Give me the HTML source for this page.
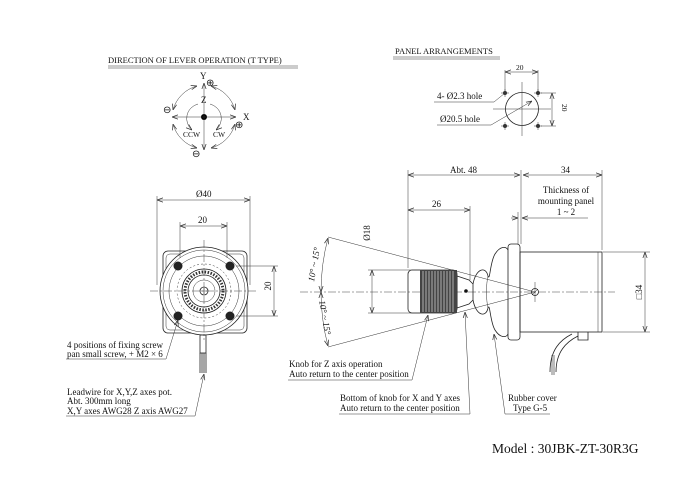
<!DOCTYPE html>
<html><head><style>
html,body{margin:0;padding:0;background:#fff;}
svg{display:block;font-family:"Liberation Serif",serif;font-size:9px;}
text{fill:#111;}
.l{stroke:#222;stroke-width:0.8;fill:none;}
.t{stroke:#333;stroke-width:0.5;fill:none;}
.c{stroke:#444;stroke-width:0.5;fill:none;stroke-dasharray:8 2 2 2;}
</style></head><body>
<svg width="700" height="495" viewBox="0 0 700 495">
<defs>
<marker id="a" viewBox="0 0 10 10" refX="10" refY="5" markerUnits="userSpaceOnUse" markerWidth="6" markerHeight="6" orient="auto-start-reverse"><path d="M0,1.5 L10,5 L0,8.5" fill="none" stroke="#333" stroke-width="1.2"/></marker>
</defs>

<!-- Direction of lever operation -->
<text x="108" y="63" style="font-size:8.5px">DIRECTION OF LEVER OPERATION (T TYPE)</text>
<line x1="108" y1="66" x2="298" y2="66" class="t"/><line x1="108" y1="68" x2="298" y2="68" class="t"/>
<circle cx="204" cy="117" r="3" fill="#000"/>
<line x1="204" y1="117" x2="204" y2="83" class="t" marker-end="url(#a)"/>
<line x1="204" y1="117" x2="204" y2="150" class="t" marker-end="url(#a)"/>
<line x1="204" y1="117" x2="172" y2="117" class="t" marker-end="url(#a)"/>
<line x1="204" y1="117" x2="236" y2="117" class="t" marker-end="url(#a)"/>
<path d="M211,86 A34,34 0 0 1 235,110" class="t" marker-start="url(#a)" marker-end="url(#a)"/>
<path d="M197,86 A34,34 0 0 0 173,110" class="t" marker-start="url(#a)" marker-end="url(#a)"/>
<path d="M173,124 A34,34 0 0 0 197,148" class="t" marker-start="url(#a)" marker-end="url(#a)"/>
<path d="M211,148 A34,34 0 0 0 235,124" class="t" marker-start="url(#a)" marker-end="url(#a)"/>
<path d="M198,104 A15,15 0 0 0 192,130" class="t" marker-end="url(#a)"/>
<path d="M210,104 A15,15 0 0 1 216,130" class="t" marker-end="url(#a)"/>
<text x="200" y="79">Y</text><text x="201" y="103">Z</text><text x="243" y="120">X</text>
<text x="183" y="137" style="font-size:7.5px">CCW</text><text x="213" y="137" style="font-size:7.5px">CW</text>
<text x="206" y="86" style="font-size:10px">⊕</text><text x="235" y="128" style="font-size:10px">⊕</text>
<text x="163" y="113" style="font-size:10px">⊖</text><text x="192" y="157" style="font-size:10px">⊖</text>

<!-- Panel arrangements -->
<text x="395" y="54" style="font-size:8.5px">PANEL ARRANGEMENTS</text>
<line x1="393" y1="57" x2="500" y2="57" class="t"/><line x1="393" y1="59" x2="500" y2="59" class="t"/>
<circle cx="522" cy="109" r="16.5" class="l"/>
<line x1="522" y1="82" x2="522" y2="136" class="t"/><line x1="493" y1="109" x2="551" y2="109" class="t"/>
<g fill="#333"><circle cx="505" cy="93" r="2"/><circle cx="538" cy="93" r="2"/><circle cx="505" cy="126" r="2"/><circle cx="538" cy="126" r="2"/></g>
<g class="t"><path d="M501,93h8M505,89v8M534,93h8M538,89v8M501,126h8M505,122v8M534,126h8M538,122v8"/></g>
<line x1="505" y1="91" x2="505" y2="70" class="t"/><line x1="538" y1="91" x2="538" y2="70" class="t"/>
<line x1="505" y1="72" x2="538" y2="72" class="t" marker-start="url(#a)" marker-end="url(#a)"/>
<text x="516" y="70" style="font-size:7.5px">20</text>
<line x1="541" y1="93" x2="556" y2="93" class="t"/><line x1="541" y1="126" x2="556" y2="126" class="t"/>
<line x1="552" y1="93" x2="552" y2="126" class="t" marker-start="url(#a)" marker-end="url(#a)"/>
<text transform="translate(562,104) rotate(90)" style="font-size:7.5px">20</text>
<text x="437" y="99">4- Ø2.3 hole</text>
<polyline points="434,102 494,102 505,93" class="t"/>
<text x="440" y="122">Ø20.5 hole</text>
<polyline points="437,125 491,125 532,101" class="t" marker-end="url(#a)"/>

<!-- Front view -->
<rect x="163" y="251" width="84" height="82" rx="5" class="l"/>
<rect x="166" y="254" width="78" height="76" rx="4" class="t"/>
<circle cx="204" cy="291" r="44" fill="#fff" stroke="#222" stroke-width="0.8"/>
<circle cx="204" cy="291" r="41" class="t"/>
<circle cx="204" cy="291" r="35" class="t"/>
<circle cx="204" cy="291" r="27" class="t" stroke-dasharray="2 2"/>
<circle cx="204" cy="291" r="22" class="l"/>
<circle cx="204" cy="291" r="19" stroke="#333" stroke-width="3" stroke-dasharray="1.5 1.5" fill="none"/>
<circle cx="204" cy="291" r="16" class="l"/>
<circle cx="204" cy="291" r="11" class="t"/>
<circle cx="204" cy="291" r="4" class="l"/>
<path d="M201,291h6M204,288v6" class="t"/>
<g fill="#222"><circle cx="178" cy="266" r="4.5"/><circle cx="230" cy="266" r="4.5"/><circle cx="178" cy="316" r="4.5"/><circle cx="230" cy="316" r="4.5"/></g>
<line x1="204" y1="240" x2="204" y2="340" class="c"/><line x1="150" y1="291" x2="258" y2="291" class="c"/>
<line x1="157" y1="196" x2="157" y2="285" class="t"/><line x1="250" y1="196" x2="250" y2="285" class="t"/>
<line x1="157" y1="200" x2="250" y2="200" class="t" marker-start="url(#a)" marker-end="url(#a)"/>
<text x="196" y="197">Ø40</text>
<line x1="180" y1="222" x2="180" y2="258" class="t"/><line x1="227" y1="222" x2="227" y2="258" class="t"/>
<line x1="180" y1="226" x2="227" y2="226" class="t" marker-start="url(#a)" marker-end="url(#a)"/>
<text x="198" y="223">20</text>
<line x1="236" y1="266" x2="278" y2="266" class="t"/><line x1="236" y1="316" x2="278" y2="316" class="t"/>
<line x1="274" y1="266" x2="274" y2="316" class="t" marker-start="url(#a)" marker-end="url(#a)"/>
<text transform="translate(271,286) rotate(-90)" text-anchor="middle">20</text>
<rect x="200" y="335" width="6" height="18" class="l"/>
<path d="M200,353v20M202,353v20M204,353v20M206,353v20" stroke="#222" stroke-width="0.8"/>
<text x="67" y="348">4 positions of fixing screw</text>
<text x="67" y="357">pan small screw, + M2 × 6</text>
<polyline points="66,359 166,359 178,320" class="t" marker-end="url(#a)"/>
<text x="67" y="395">Leadwire for X,Y,Z axes pot.</text>
<text x="67" y="404">Abt. 300mm long</text>
<text x="67" y="414">X,Y axes AWG28  Z axis AWG27</text>
<polyline points="66,416 195,416 204,374" class="t" marker-end="url(#a)"/>

<!-- Side view -->
<line x1="300" y1="292" x2="615" y2="292" class="c"/>
<rect x="520" y="252" width="82" height="80" class="l"/>
<line x1="598" y1="252" x2="598" y2="332" class="t"/>
<rect x="508" y="244" width="12" height="96" rx="3" class="l"/>
<path d="M473,284 C476,268 486,266 488,276 C490,282 490,262 495,254 C500,246 506,246 508,250" class="l"/>
<path d="M473,300 C476,316 486,318 488,308 C490,302 490,322 495,330 C500,338 506,338 508,334" class="l"/>
<path d="M488,276 C486,284 486,300 488,308" class="t"/>
<path d="M457,276 L469,280 L473,284 L473,300 L469,304 L457,308 Z" class="l"/>
<rect x="408" y="270" width="49" height="43" rx="4" class="l"/>
<rect x="420" y="270" width="37" height="43" fill="#444"/>
<path d="M423,271v41M426,271v41M429,271v41M432,271v41M435,271v41M438,271v41M441,271v41M444,271v41M447,271v41M450,271v41M453,271v41" stroke="#ccc" stroke-width="0.8"/>
<circle cx="466" cy="291" r="1.8" fill="#111"/>
<circle cx="535" cy="292" r="3.5" class="l"/><path d="M532,295l6,-6" class="t"/>
<line x1="535" y1="282" x2="535" y2="302" class="t"/>
<path d="M578,332 L578,340 L588,340 L588,332" class="l"/>
<path d="M572,334 C560,340 550,350 550,372" class="l"/>
<path d="M578,336 C566,342 556,352 556,372" class="l"/>
<path d="M552,355v20M554,355v20" stroke="#222" stroke-width="0.6"/>
<line x1="535" y1="292" x2="328" y2="237" class="t"/><line x1="535" y1="292" x2="328" y2="347" class="t"/>
<path d="M328,238 A210,210 0 0 0 321,292" class="t" marker-start="url(#a)" marker-end="url(#a)"/>
<path d="M321,292 A210,210 0 0 0 328,346" class="t" marker-start="url(#a)" marker-end="url(#a)"/>
<text transform="translate(317,265) rotate(-80)" text-anchor="middle" font-style="italic">10° ~ 15°</text>
<text transform="translate(322,318) rotate(80)" text-anchor="middle" font-style="italic">10° ~ 15°</text>
<line x1="408" y1="170" x2="408" y2="268" class="t"/>
<line x1="521" y1="170" x2="521" y2="244" class="t"/>
<line x1="602" y1="170" x2="602" y2="250" class="t"/>
<line x1="408" y1="175" x2="520" y2="175" class="t" marker-start="url(#a)" marker-end="url(#a)"/>
<line x1="523" y1="175" x2="602" y2="175" class="t" marker-start="url(#a)" marker-end="url(#a)"/>
<text x="450" y="173">Abt. 48</text><text x="561" y="173">34</text>
<line x1="470" y1="206" x2="470" y2="280" class="t"/>
<line x1="408" y1="210" x2="470" y2="210" class="t" marker-start="url(#a)" marker-end="url(#a)"/>
<text x="432" y="207">26</text>
<text x="566" y="193" text-anchor="middle">Thickness of</text>
<text x="566" y="204" text-anchor="middle">mounting panel</text>
<text x="566" y="215" text-anchor="middle">1 ~ 2</text>
<line x1="511" y1="218" x2="518" y2="218" class="t" marker-end="url(#a)"/>
<line x1="588" y1="218" x2="522" y2="218" class="t" marker-end="url(#a)"/>
<line x1="518" y1="212" x2="518" y2="244" class="t"/>
<line x1="368" y1="270" x2="420" y2="270" class="t"/><line x1="368" y1="313" x2="420" y2="313" class="t"/>
<line x1="372" y1="270" x2="372" y2="313" class="t" marker-start="url(#a)" marker-end="url(#a)"/>
<text transform="translate(370,233) rotate(-90)" text-anchor="middle">Ø18</text>
<line x1="603" y1="252" x2="650" y2="252" class="t"/><line x1="603" y1="332" x2="650" y2="332" class="t"/>
<line x1="645" y1="252" x2="645" y2="332" class="t" marker-start="url(#a)" marker-end="url(#a)"/>
<text transform="translate(642,292) rotate(-90)" text-anchor="middle">□34</text>
<text x="289" y="367">Knob for Z axis operation</text>
<text x="289" y="377">Auto return to the center position</text>
<polyline points="288,380 412,380 428,315" class="t" marker-end="url(#a)"/>
<text x="340" y="401">Bottom of knob for X and Y axes</text>
<text x="340" y="411">Auto return to the center position</text>
<polyline points="339,414 470,414 465,312" class="t" marker-end="url(#a)"/>
<text x="508" y="401">Rubber cover</text>
<text x="513" y="411">Type G-5</text>
<polyline points="550,414 505,414 494,334" class="t" marker-end="url(#a)"/>

<text x="492" y="453" style="font-size:13.5px">Model : 30JBK-ZT-30R3G</text>
</svg>
</body></html>
